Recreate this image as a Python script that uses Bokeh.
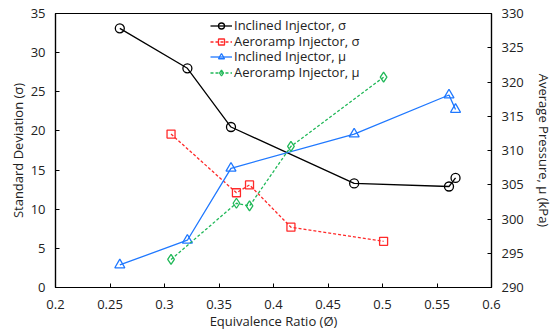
from bokeh.plotting import figure
from bokeh.models import LinearAxis, Range1d, FixedTicker, Legend, LegendItem
from bokeh.embed import file_html
from bokeh.resources import INLINE

# Data
x_inc = [0.259, 0.321, 0.361, 0.474, 0.561, 0.567]
sigma_inc = [33.1, 28.0, 20.5, 13.3, 12.9, 14.0]
x_aero = [0.306, 0.366, 0.378, 0.416, 0.501]
sigma_aero = [19.6, 12.1, 13.1, 7.7, 5.9]
mu_inc = [293.3, 296.9, 307.4, 312.4, 318.1, 316.0]
mu_aero = [294.1, 302.3, 301.9, 310.6, 320.7]

x_ticks = [0.2, 0.25, 0.3, 0.35, 0.4, 0.45, 0.5, 0.55, 0.6]
x_tick_labels = ["0.2", "0.25", "0.3", "0.35", "0.4", "0.45", "0.5", "0.55", "0.6"]
y_ticks = [0, 5, 10, 15, 20, 25, 30, 35]
y2_ticks = [290, 295, 300, 305, 310, 315, 320, 325, 330]
legend_labels = ["Inclined Injector, σ", "Aeroramp Injector, σ",
                 "Inclined Injector, μ", "Aeroramp Injector, μ"]

FONT = "Open Sans"

p = figure(frame_width=436, frame_height=274, output_backend="svg", toolbar_location=None,
           x_range=Range1d(0.2, 0.6), y_range=Range1d(0, 35),
           min_border_left=55, min_border_right=62, min_border_top=13, min_border_bottom=42)
p.extra_y_ranges = {"mu": Range1d(290, 330)}
p.xgrid.visible = False
p.ygrid.visible = False
p.outline_line_color = "black"
p.outline_line_width = 1.2
p.background_fill_color = "white"
p.border_fill_color = "white"

def style_axis(ax, label_standoff, axis_standoff):
    ax.axis_line_color = "black"
    ax.axis_line_width = 1.2
    ax.major_tick_in = 4
    ax.major_tick_out = 0
    ax.minor_tick_line_color = None
    ax.major_label_text_font = FONT
    ax.major_label_text_font_size = "13px"
    ax.major_label_text_color = "#222222"
    ax.axis_label_text_font = FONT
    ax.axis_label_text_font_size = "13px"
    ax.axis_label_text_font_style = "normal"
    ax.axis_label_text_color = "#222222"
    ax.major_label_standoff = label_standoff
    ax.axis_label_standoff = axis_standoff

p.xaxis.ticker = FixedTicker(ticks=x_ticks)
p.xaxis.major_label_overrides = {t: l for t, l in zip(x_ticks, x_tick_labels)}
p.xaxis.axis_label = "Equivalence Ratio (Ø)"
p.yaxis.ticker = FixedTicker(ticks=y_ticks)
p.yaxis.axis_label = "Standard Deviation (σ)"
style_axis(p.xaxis[0], 12, 0)
style_axis(p.yaxis[0], 10, 1)

ax2 = LinearAxis(y_range_name="mu", ticker=FixedTicker(ticks=y2_ticks),
                 axis_label="Average Pressure, μ (kPa)")
style_axis(ax2, 10, 8)
p.add_layout(ax2, "right")

black = "black"
red = "#ff2a2a"
blue = "#1f78ff"
green = "#20b858"

l1 = p.line(x_inc, sigma_inc, line_color=black, line_width=1.3)
m1 = p.scatter(x_inc, sigma_inc, marker="circle", size=9, line_color=black, fill_color=None, line_width=1.3)
l2 = p.line(x_aero, sigma_aero, line_color=red, line_width=1.3, line_dash="3 2")
m2 = p.scatter(x_aero, sigma_aero, marker="square", size=8, line_color=red, fill_color=None, line_width=1.3)
l3 = p.line(x_inc, mu_inc, line_color=blue, line_width=1.3, y_range_name="mu")
m3 = p.scatter(x_inc, mu_inc, marker="triangle", size=10, line_color=blue, fill_color=None, line_width=1.3, y_range_name="mu")
l4 = p.line(x_aero, mu_aero, line_color=green, line_width=1.3, line_dash="3 2", y_range_name="mu")
m4 = p.scatter(x_aero, mu_aero, marker="diamond", size=10, line_color=green, fill_color=None, line_width=1.3, y_range_name="mu")

# One single-row legend per series so the rows can sit closer than a text line
renderer_pairs = [[l1, m1], [l2, m2], [l3, m3], [l4, m4]]
for i, (lab, rends) in enumerate(zip(legend_labels, renderer_pairs)):
    lg = Legend(items=[LegendItem(label=lab, renderers=rends)],
                location=(155, 253 - round(15.6 * i)))
    lg.border_line_color = None
    lg.background_fill_alpha = 0
    lg.padding = 0
    lg.margin = 0
    lg.spacing = 0
    lg.glyph_width = 22
    lg.glyph_height = 15
    lg.label_height = 15
    lg.label_standoff = 2
    lg.label_text_font = FONT
    lg.label_text_font_size = "13px"
    lg.label_text_color = "#222222"
    p.add_layout(lg, "center")

open("out.html", "w").write(file_html(p, INLINE))
